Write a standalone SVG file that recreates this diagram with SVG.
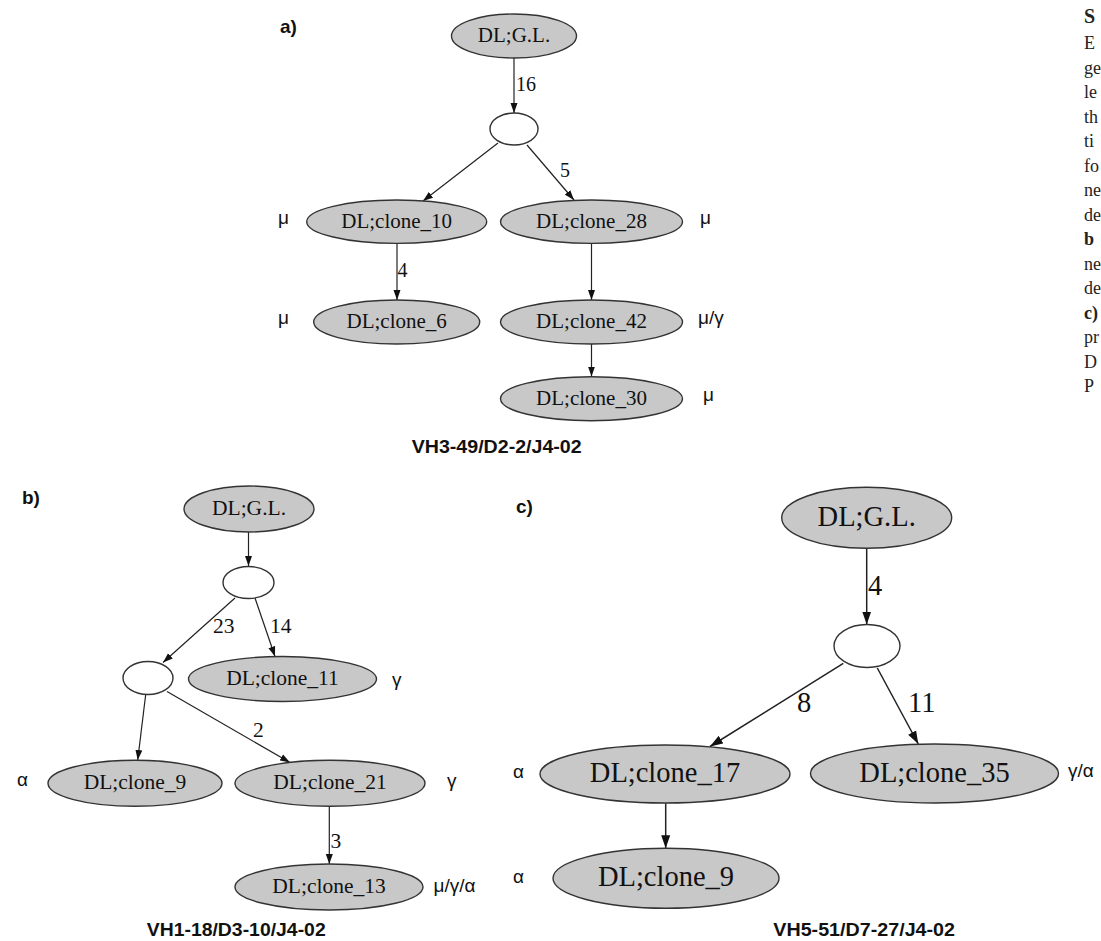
<svg xmlns="http://www.w3.org/2000/svg" width="1101" height="941" viewBox="0 0 1101 941">
<style>
.n{fill:#c8c8c8;stroke:#333;stroke-width:1.4}
.e{fill:#fff;stroke:#333;stroke-width:1.4}
.t{font-family:"Liberation Serif",serif;fill:#111;text-anchor:middle}
.ta{font-size:21px}.tb{font-size:21.5px}.tc{font-size:28.5px}
.el{font-family:"Liberation Serif",serif;fill:#111}
.g{font-family:"Liberation Sans",sans-serif;font-size:19px;fill:#111}
.h{font-family:"Liberation Sans",sans-serif;font-weight:bold;fill:#111}
.cap{font-family:"Liberation Serif",serif;font-size:18px;fill:#222}
#connectors line{stroke:#222;stroke-width:1.2;fill:none}
#connectors line.L{stroke-width:1.5}
</style>
<defs>
<marker id="ah" markerWidth="10" markerHeight="8" refX="10" refY="4" orient="auto" markerUnits="userSpaceOnUse"><path d="M0,0.5 L10,4 L0,7.5z" fill="#111"/></marker>
<marker id="ahL" markerWidth="13" markerHeight="10" refX="13" refY="5" orient="auto" markerUnits="userSpaceOnUse"><path d="M0,0.5 L13,5 L0,9.5z" fill="#111"/></marker>
</defs>
<rect width="1101" height="941" fill="#fff"/>

<g id="connectors">
<line x1="514" y1="58" x2="514" y2="113" marker-end="url(#ah)"/>
<line x1="498" y1="143" x2="423" y2="201" marker-end="url(#ah)"/>
<line x1="527" y1="145" x2="574" y2="200" marker-end="url(#ah)"/>
<line x1="397" y1="243.5" x2="397" y2="300" marker-end="url(#ah)"/>
<line x1="591.5" y1="243.5" x2="591.5" y2="300" marker-end="url(#ah)"/>
<line x1="591.5" y1="344" x2="591.5" y2="376.5" marker-end="url(#ah)"/>

<line x1="248.5" y1="532" x2="248.5" y2="566" marker-end="url(#ah)"/>
<line x1="235" y1="598" x2="163" y2="662.5" marker-end="url(#ah)"/>
<line x1="255" y1="598" x2="275" y2="656.5" marker-end="url(#ah)"/>
<line x1="145.7" y1="694.5" x2="137.7" y2="760" marker-end="url(#ah)"/>
<line x1="167" y1="691.5" x2="290" y2="762.5" marker-end="url(#ah)"/>
<line x1="329.3" y1="806.5" x2="329.3" y2="864" marker-end="url(#ah)"/>

<line class="L" x1="866.7" y1="548.3" x2="866.7" y2="624.5" marker-end="url(#ahL)"/>
<line class="L" x1="843.3" y1="663.3" x2="710" y2="746.5" marker-end="url(#ahL)"/>
<line class="L" x1="877.3" y1="668" x2="918.3" y2="744" marker-end="url(#ahL)"/>
<line class="L" x1="665.7" y1="803.3" x2="665.7" y2="848.3" marker-end="url(#ahL)"/>
</g>

<g id="edge-labels" class="el">
<text x="516" y="91" font-size="20">16</text>
<text x="560" y="177" font-size="20">5</text>
<text x="397.5" y="277" font-size="20">4</text>
<text x="213" y="633" font-size="21.5">23</text>
<text x="270" y="633" font-size="21.5">14</text>
<text x="253" y="737" font-size="21.5">2</text>
<text x="330.5" y="848" font-size="21.5">3</text>
<text x="868" y="595" font-size="28.5">4</text>
<text x="797" y="712" font-size="28.5">8</text>
<text x="908" y="712" font-size="28.5">11</text>
</g>

<!-- panel a -->
<text class="h" x="280" y="33" font-size="19">a)</text>
<g id="a_GL"><ellipse class="n" cx="514" cy="36" rx="62.5" ry="22"/><text class="t ta" x="514" y="42">DL;G.L.</text></g>
<g id="a_node1"><ellipse class="e" cx="514" cy="129" rx="24" ry="16"/></g>
<g id="a_clone10"><ellipse class="n" cx="396.7" cy="221.7" rx="90" ry="21.7"/><text class="t ta" x="396.7" y="227.5">DL;clone_10</text></g>
<g id="a_clone28"><ellipse class="n" cx="591.5" cy="221.7" rx="91" ry="21.7"/><text class="t ta" x="591.5" y="227.5">DL;clone_28</text></g>
<g id="a_clone6"><ellipse class="n" cx="396.7" cy="322" rx="83" ry="22"/><text class="t ta" x="396.7" y="328">DL;clone_6</text></g>
<g id="a_clone42"><ellipse class="n" cx="591.5" cy="322" rx="91" ry="22"/><text class="t ta" x="591.5" y="328">DL;clone_42</text></g>
<g id="a_clone30"><ellipse class="n" cx="591.5" cy="398.7" rx="91" ry="22"/><text class="t ta" x="591.5" y="404.7">DL;clone_30</text></g>
<text class="g" x="278" y="224">μ</text>
<text class="g" x="278" y="324">μ</text>
<text class="g" x="700" y="224">μ</text>
<text class="g" x="698" y="324">μ/γ</text>
<text class="g" x="703" y="401">μ</text>
<text class="h" x="411.7" y="453" font-size="19" textLength="170" lengthAdjust="spacingAndGlyphs">VH3-49/D2-2/J4-02</text>

<!-- panel b -->
<text class="h" x="22" y="504" font-size="19">b)</text>
<g id="b_GL"><ellipse class="n" cx="249" cy="509" rx="65" ry="23"/><text class="t tb" x="249" y="515">DL;G.L.</text></g>
<g id="b_node1"><ellipse class="e" cx="248.5" cy="582.5" rx="25.5" ry="16"/></g>
<g id="b_node2"><ellipse class="e" cx="148" cy="678" rx="25" ry="16.5"/></g>
<g id="b_clone11"><ellipse class="n" cx="282.5" cy="679" rx="94" ry="22.5"/><text class="t tb" x="282.5" y="685">DL;clone_11</text></g>
<g id="b_clone9"><ellipse class="n" cx="135" cy="783.3" rx="87" ry="23"/><text class="t tb" x="135" y="789.3">DL;clone_9</text></g>
<g id="b_clone21"><ellipse class="n" cx="330" cy="783.3" rx="95" ry="23"/><text class="t tb" x="330" y="789.3">DL;clone_21</text></g>
<g id="b_clone13"><ellipse class="n" cx="329" cy="887" rx="94" ry="23"/><text class="t tb" x="329" y="893">DL;clone_13</text></g>
<text class="g" x="392" y="686">γ</text>
<text class="g" x="17" y="786">α</text>
<text class="g" x="447" y="787">γ</text>
<text class="g" x="433.5" y="892">μ/γ/α</text>
<text class="h" x="146.7" y="936" font-size="19" textLength="179" lengthAdjust="spacingAndGlyphs">VH1-18/D3-10/J4-02</text>

<!-- panel c -->
<text class="h" x="516" y="513" font-size="19">c)</text>
<g id="c_GL"><ellipse class="n" cx="866.7" cy="517.8" rx="85" ry="30.5"/><text class="t tc" x="866.7" y="525.5">DL;G.L.</text></g>
<g id="c_node1"><ellipse class="e" cx="867" cy="646" rx="33" ry="21.5"/></g>
<g id="c_clone17"><ellipse class="n" cx="665" cy="774" rx="125" ry="29"/><text class="t tc" x="665" y="782">DL;clone_17</text></g>
<g id="c_clone35"><ellipse class="n" cx="934.5" cy="773.5" rx="124" ry="29.5"/><text class="t tc" x="934.5" y="781.5">DL;clone_35</text></g>
<g id="c_clone9"><ellipse class="n" cx="666" cy="878.3" rx="113" ry="30"/><text class="t tc" x="666" y="886.3">DL;clone_9</text></g>
<text class="g" x="513" y="778">α</text>
<text class="g" x="513" y="883">α</text>
<text class="g" x="1068" y="777">γ/α</text>
<text class="h" x="773.3" y="936" font-size="19" textLength="181.7" lengthAdjust="spacingAndGlyphs">VH5-51/D7-27/J4-02</text>

<!-- cropped caption column -->
<g id="side-caption" class="cap">
<text x="1084" y="23" font-weight="bold" font-size="20">S</text>
<text x="1084" y="49">E</text>
<text x="1084" y="73.5">ge</text>
<text x="1084" y="98">le</text>
<text x="1084" y="122.5">th</text>
<text x="1084" y="147">ti</text>
<text x="1084" y="171.5">fo</text>
<text x="1084" y="196">ne</text>
<text x="1084" y="220.5">de</text>
<text x="1084" y="245" font-weight="bold">b</text>
<text x="1084" y="269.5">ne</text>
<text x="1084" y="294">de</text>
<text x="1084" y="318.5" font-weight="bold">c)</text>
<text x="1084" y="343">pr</text>
<text x="1084" y="367.5">D</text>
<text x="1084" y="392">P</text>
</g>
</svg>
